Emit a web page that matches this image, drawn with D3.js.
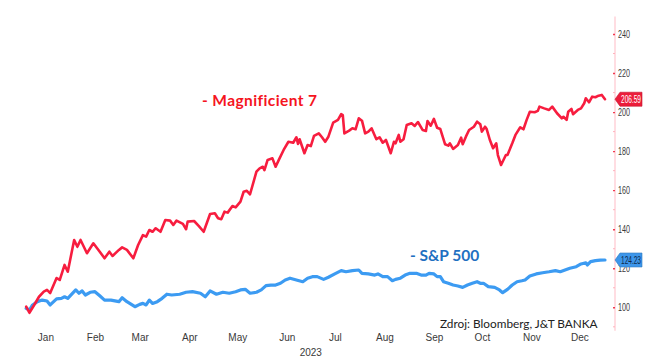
<!DOCTYPE html>
<html>
<head>
<meta charset="utf-8">
<script src="https://cdn.jsdelivr.net/npm/d3@7"></script>
<style>
  html, body { margin: 0; padding: 0; background: #ffffff; }
  svg { display: block; }
</style>
</head>
<body>
<svg id="chart" width="661" height="357"></svg>
<script>
// ---------- DATA ----------
const monthLabels = ["Jan","Feb","Mar","Apr","May","Jun","Jul","Aug","Sep","Oct","Nov","Dec"];
const yearLabel = "2023";
const yTicks = [100, 120, 140, 160, 180, 200, 220, 240];
const yMinorTicks = [90, 110, 130, 150, 170, 190, 210, 230];

const m7Name = "- Magnificient 7";
const m7Dates = ["01-03","01-05","01-08","01-11","01-14","01-16","01-18","01-22","01-24","01-27","01-29",
  "02-02","02-04","02-06","02-10","02-14","02-18","02-21","02-24","02-26",
  "03-02","03-04","03-07","03-11","03-14","03-17","03-19","03-21","03-23","03-25","03-28","03-31",
  "04-03","04-05","04-07","04-11","04-13","04-14","04-18","04-21","04-24","04-28",
  "05-01","05-03","05-05","05-07","05-09","05-12","05-14","05-17","05-19","05-21","05-23","05-27","05-29","05-31",
  "06-01","06-03","06-06","06-08","06-10","06-13","06-16","06-19","06-21","06-22","06-23","06-26","06-28","06-30",
  "07-02","07-05","07-07","07-09","07-11","07-14","07-17","07-19","07-20","07-21","07-24","07-26","07-28","07-30",
  "08-01","08-03","08-05","08-07","08-10","08-12","08-14","08-16","08-19","08-21","08-22","08-24","08-25","08-27","08-29",
  "09-01","09-03","09-05","09-08","09-10","09-11","09-13","09-15","09-17","09-19","09-22","09-24","09-25","09-27","09-30",
  "10-02","10-03","10-05","10-07","10-10","10-12","10-14","10-15","10-17","10-18","10-20","10-22","10-24","10-25","10-27","10-30","10-31",
  "11-03","11-05","11-08","11-10","11-12","11-14","11-17","11-19","11-20","11-23","11-26","11-28",
  "12-01","12-04","12-05","12-07","12-08","12-10","12-11","12-14","12-16","12-18","12-19","12-21","12-23","12-25","12-27","12-29","12-31"];
const m7Values = [100.3,97.2,101.2,105.4,108.0,108.9,107.3,115.0,114.0,121.7,118.2,
  134.5,131.0,134.5,127.7,132.8,128.5,125.1,128.5,126.3,
  129.4,130.7,129.4,125.1,131.9,137.0,136.2,139.6,138.7,140.5,138.7,144.7,
  144.4,142.2,144.4,142.7,140.0,143.9,144.2,141.6,138.7,147.8,
  148.2,145.6,145.1,149.0,148.5,151.9,151.2,154.1,159.2,159.7,157.9,169.5,171.2,172.0,
  170.3,175.5,176.3,172.0,175.5,180.6,184.8,184.3,187.1,183.7,186.1,178.9,183.1,182.6,
  187.8,189.1,187.1,184.8,187.4,194.6,196.0,199.0,198.5,189.1,190.5,191.7,191.2,196.8,
  195.6,189.1,190.0,191.7,186.1,187.1,184.3,185.7,178.9,184.8,184.0,188.3,184.8,186.1,193.4,
  194.3,192.9,194.9,190.8,190.3,195.4,193.0,196.5,192.0,191.3,183.5,182.8,184.0,181.1,183.1,
  186.9,183.5,187.4,190.8,192.5,195.1,193.8,190.0,192.5,191.3,185.7,181.5,184.0,178.0,172.9,178.0,178.0,
  184.0,188.3,192.2,191.2,196.0,200.2,199.9,200.6,202.8,201.9,201.1,202.8,
  199.4,196.8,197.6,196.0,200.2,201.6,198.9,201.1,201.9,204.5,207.1,205.0,207.9,207.6,208.4,208.8,206.59];

const spxName = "- S&P 500";
const spxDates = ["01-03","01-05","01-07","01-10","01-13","01-16","01-18","01-22","01-25","01-27","01-29",
  "02-03","02-05","02-07","02-09","02-12","02-15","02-18","02-21","02-25",
  "03-02","03-04","03-07","03-12","03-15","03-17","03-19","03-21","03-23","03-26","03-29",
  "04-01","04-04","04-09","04-13","04-17","04-22","04-25","04-28",
  "05-02","05-06","05-10","05-14","05-17","05-20","05-23","05-27","05-30",
  "06-02","06-05","06-08","06-11","06-14","06-17","06-21","06-25","06-28",
  "07-01","07-04","07-08","07-11","07-15","07-19","07-22","07-26","07-30",
  "08-01","08-05","08-09","08-11","08-14","08-17","08-20","08-22","08-25","08-28","08-31",
  "09-04","09-07","09-10","09-12","09-15","09-17","09-19","09-21","09-24","09-27","09-30",
  "10-03","10-06","10-09","10-12","10-14","10-16","10-19","10-23","10-26","10-28","10-31",
  "11-03","11-06","11-09","11-11","11-14","11-18","11-22","11-26","11-30",
  "12-03","12-06","12-09","12-13","12-16","12-19","12-20","12-22","12-25","12-28","12-31"];
const spxValues = [99.5,98.6,101.2,102.9,103.7,103.2,101.2,104.3,104.6,105.4,104.6,
  108.9,107.2,108.4,106.3,107.7,108.0,105.9,103.7,103.7,
  102.9,104.9,102.9,100.3,101.5,102.0,101.2,103.7,102.0,102.9,104.6,
  106.7,106.3,106.7,107.7,108.0,107.2,105.4,108.4,
  106.7,107.7,107.2,108.0,108.9,109.2,107.2,107.7,108.9,
  111.1,111.4,111.4,112.3,114.0,114.9,114.0,113.1,114.9,
  115.7,115.7,114.3,115.4,117.1,118.8,118.2,118.8,119.1,
  117.4,117.1,116.5,117.1,115.7,115.7,113.6,114.3,114.9,116.5,117.4,
  117.4,116.5,116.5,117.4,117.1,115.7,115.7,113.1,112.3,111.4,110.9,
  110.2,111.4,112.3,113.1,112.3,112.3,110.6,110.2,108.9,107.5,109.2,
  111.4,113.1,113.6,114.0,116.0,117.1,117.7,118.2,118.8,
  118.2,119.1,120.0,120.8,122.2,122.8,121.7,123.4,123.9,124.2,124.23];

const sourceText = "Zdroj: Bloomberg, J&T BANKA";

// ---------- STYLE ----------
const redLine = "#f71d3f";
const blueLine = "#3c9bf2";
const redText = "#f5141e";
const blueText = "#1f70c1";
const narrow = "'Liberation Sans Narrow', 'Arial Narrow', sans-serif";

// ---------- CHART ----------
const svg = d3.select("#chart");
const parse = d3.timeParse("%Y-%m-%d");
const toDate = s => parse(yearLabel + "-" + s);

const x = d3.scaleTime()
  .domain([toDate("01-01"), toDate("12-31")])
  .range([23, 605]);
const y = d3.scaleLinear()
  .domain([100, 240])
  .range([307.3, 34]);

const axisX = 615;

// right axis line
svg.append("line")
  .attr("x1", axisX).attr("x2", axisX)
  .attr("y1", y(249)).attr("y2", y(88))
  .attr("stroke", "#ffc7cf").attr("stroke-width", 1.2);

// minor ticks
svg.append("g").selectAll("line").data(yMinorTicks).join("line")
  .attr("x1", axisX - 2).attr("x2", axisX)
  .attr("y1", d => y(d)).attr("y2", d => y(d))
  .attr("stroke", "#ffb3bd").attr("stroke-width", 1);

// major ticks and labels
const yAxis = d3.axisRight(y).tickValues(yTicks).tickSize(0).tickPadding(3);
const gy = svg.append("g").attr("transform", `translate(${axisX},0)`).call(yAxis);
gy.select(".domain").remove();
gy.selectAll(".tick text")
  .attr("font-family", narrow).attr("font-size", 10).attr("fill", "#3a3a3a")
  .attr("textLength", 12).attr("lengthAdjust", "spacingAndGlyphs");
gy.selectAll(".tick").append("line")
  .attr("x1", -2).attr("x2", 0).attr("stroke", "#f23a4f").attr("stroke-width", 1.4);

// x labels (mid-month)
const monthMid = monthLabels.map((m, i) => new Date(2023, i, 15));
const xAxis = d3.axisBottom(x).tickValues(monthMid).tickSize(0).tickPadding(0)
  .tickFormat((d, i) => monthLabels[i]);
const gx = svg.append("g").attr("transform", "translate(0,334)").call(xAxis);
gx.select(".domain").remove();
gx.selectAll(".tick text")
  .attr("font-family", narrow).attr("font-size", 10).attr("fill", "#3a3a3a");

svg.append("text")
  .attr("x", x(new Date(2023, 5, 30))).attr("y", 355.5)
  .attr("text-anchor", "middle")
  .attr("font-family", narrow).attr("font-size", 10).attr("fill", "#3a3a3a")
  .text(yearLabel);

// lines
const line = d3.line().x(d => x(d.date)).y(d => y(d.value)).curve(d3.curveLinear);
const spx = spxDates.map((d, i) => ({ date: toDate(d), value: spxValues[i] }));
const m7 = m7Dates.map((d, i) => ({ date: toDate(d), value: m7Values[i] }));

svg.append("path").datum(spx)
  .attr("d", line).attr("fill", "none")
  .attr("stroke", blueLine).attr("stroke-width", 3.2)
  .attr("stroke-linejoin", "round").attr("stroke-linecap", "round");
svg.append("path").datum(m7)
  .attr("d", line).attr("fill", "none")
  .attr("stroke", redLine).attr("stroke-width", 2.6)
  .attr("stroke-linejoin", "round").attr("stroke-linecap", "round");

// value badges
function badge(value, fill, textColor) {
  const g = svg.append("g").attr("transform", `translate(${axisX},${y(value)})`);
  g.append("path")
    .attr("d", "M0,0 L5,-7 L27,-7 L27,7 L5,7 Z")
    .attr("fill", fill).attr("stroke", d3.color(fill).darker(0.6)).attr("stroke-width", 0.6);
  g.append("text")
    .attr("x", 16).attr("y", 0).attr("dy", "0.36em")
    .attr("text-anchor", "middle")
    .attr("font-family", narrow).attr("font-size", 10).attr("fill", textColor)
    .attr("textLength", 20).attr("lengthAdjust", "spacingAndGlyphs")
    .text(value.toFixed(2));
}
badge(m7Values[m7Values.length - 1], "#ec1c3a", "#ffffff");
badge(spxValues[spxValues.length - 1], "#3d96ea", "#0d2a4d");

// annotations
svg.append("text")
  .attr("x", 202).attr("y", 106)
  .attr("font-family", "Lato, 'Open Sans', sans-serif").attr("font-weight", "bold")
  .attr("font-size", 15.5).attr("letter-spacing", 0.4).attr("fill", redText)
  .text(m7Name);
svg.append("text")
  .attr("x", 410).attr("y", 261)
  .attr("font-family", "Lato, 'Open Sans', sans-serif").attr("font-weight", "bold")
  .attr("font-size", 15.5).attr("fill", blueText)
  .text(spxName);
svg.append("text")
  .attr("x", 440).attr("y", 328)
  .attr("font-family", "Lato, 'Open Sans', sans-serif")
  .attr("font-size", 11.8).attr("fill", "#222222")
  .text(sourceText);
</script>
</body>
</html>
